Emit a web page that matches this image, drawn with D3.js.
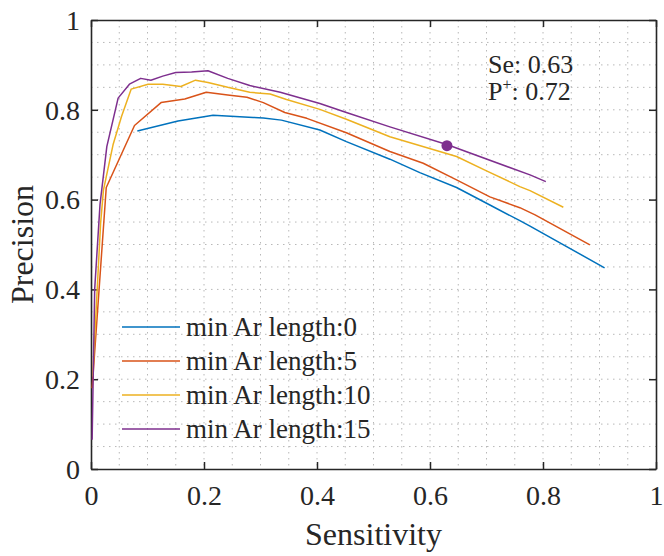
<!DOCTYPE html>
<html>
<head>
<meta charset="utf-8">
<script src="https://cdn.jsdelivr.net/npm/d3@7"></script>
<style>
  body { margin: 0; background: #fff; }
  svg { display: block; }
  text { font-family: "Liberation Serif", Tinos, "Times New Roman", Times, "DejaVu Serif", "Noto Serif", serif; fill: #262626; }
</style>
</head>
<body>
<svg></svg>
<script>
// series: [sensitivity, precision]
const len0 = [[0.082,0.753],[0.154,0.775],[0.216,0.788],[0.287,0.783],[0.305,0.782],[0.337,0.777],[0.405,0.755],[0.452,0.729],[0.529,0.690],[0.582,0.660],[0.647,0.627],[0.706,0.588],[0.759,0.553],[0.777,0.541],[0.909,0.448]];
const len5 = [[0.002,0.18],[0.027,0.627],[0.077,0.765],[0.124,0.816],[0.166,0.824],[0.204,0.839],[0.242,0.833],[0.276,0.828],[0.305,0.816],[0.343,0.794],[0.382,0.781],[0.452,0.749],[0.529,0.707],[0.588,0.681],[0.647,0.644],[0.706,0.606],[0.759,0.582],[0.786,0.566],[0.883,0.499]];
const len10 = [[0.003,0.206],[0.017,0.547],[0.022,0.621],[0.039,0.722],[0.054,0.785],[0.071,0.846],[0.101,0.857],[0.127,0.857],[0.159,0.852],[0.185,0.866],[0.207,0.861],[0.242,0.850],[0.281,0.839],[0.317,0.835],[0.346,0.823],[0.405,0.801],[0.452,0.779],[0.529,0.740],[0.647,0.696],[0.700,0.664],[0.759,0.629],[0.777,0.620],[0.836,0.583]];
const len15 = [[0.002,0.065],[0.0065,0.40],[0.016,0.59],[0.028,0.718],[0.048,0.826],[0.068,0.857],[0.088,0.870],[0.106,0.866],[0.127,0.875],[0.150,0.883],[0.178,0.884],[0.207,0.887],[0.242,0.870],[0.281,0.854],[0.335,0.839],[0.405,0.814],[0.452,0.794],[0.529,0.762],[0.631,0.722],[0.777,0.655],[0.805,0.640]];

const seriesNames = ["min Ar length:0", "min Ar length:5", "min Ar length:10", "min Ar length:15"];
const seriesColors = ["#0072BD", "#D95319", "#EDB120", "#7E2F8E"];
const allSeries = [len0, len5, len10, len15];

const markedPoint = [0.63, 0.72];
const tickValues = [0, 0.2, 0.4, 0.6, 0.8, 1];

const serif = '"Liberation Serif", Tinos, "Times New Roman", Times, "DejaVu Serif", "Noto Serif", serif';

window.onload = function() {
    const svg = d3.select("svg")
        .attr("width", 664)
        .attr("height", 556);

    const left = 91, right = 656, top = 20, bottom = 469;

    const x = d3.scaleLinear().domain([0, 1]).range([left, right]);
    const y = d3.scaleLinear().domain([0, 1]).range([bottom, top]);

    // dotted grid every 0.05
    const gridVals = d3.range(1, 20).map(i => i / 20);
    svg.append("g").selectAll("line")
        .data(gridVals)
        .join("line")
        .attr("x1", d => x(d)).attr("x2", d => x(d))
        .attr("y1", top).attr("y2", bottom)
        .attr("stroke", "#b8b8b8")
        .attr("stroke-width", 1)
        .attr("stroke-dasharray", "1.5,4.5");
    svg.append("g").selectAll("line")
        .data(gridVals)
        .join("line")
        .attr("y1", d => y(d)).attr("y2", d => y(d))
        .attr("x1", left).attr("x2", right)
        .attr("stroke", "#b8b8b8")
        .attr("stroke-width", 1)
        .attr("stroke-dasharray", "1.5,4.5");

    const fmt = d3.format("~g");

    // axes, ticks pointing inward
    const styleAxis = function(g) {
        g.attr("font-family", null);
        g.selectAll(".domain").attr("stroke", "#262626").attr("stroke-width", 1.6);
        g.selectAll(".tick line").attr("stroke", "#262626").attr("stroke-width", 1.5);
        g.selectAll(".tick text").attr("fill", "#262626")
            .style("font-family", serif)
            .style("font-size", "28px");
    };

    svg.append("g")
        .attr("transform", `translate(0,${bottom})`)
        .call(d3.axisBottom(x).tickValues(tickValues).tickFormat(fmt).tickSize(-7).tickSizeOuter(0).tickPadding(16))
        .call(styleAxis);
    svg.append("g")
        .attr("transform", `translate(${left},0)`)
        .call(d3.axisLeft(y).tickValues(tickValues).tickFormat(fmt).tickSize(-7).tickSizeOuter(0).tickPadding(11))
        .call(styleAxis)
        .selectAll(".tick text").attr("dy", "0.33em");
    svg.append("g")
        .attr("transform", `translate(0,${top})`)
        .call(d3.axisTop(x).tickValues(tickValues).tickFormat("").tickSize(-7).tickSizeOuter(0))
        .call(styleAxis);
    svg.append("g")
        .attr("transform", `translate(${right},0)`)
        .call(d3.axisRight(y).tickValues(tickValues).tickFormat("").tickSize(-7).tickSizeOuter(0))
        .call(styleAxis);

    // curves
    const line = d3.line()
        .x(d => x(d[0]))
        .y(d => y(d[1]));

    svg.append("g").selectAll("path")
        .data(allSeries)
        .join("path")
        .attr("d", line)
        .attr("fill", "none")
        .attr("stroke", (d, i) => seriesColors[i])
        .attr("stroke-width", 1.5)
        .attr("stroke-linejoin", "round");

    // marked operating point
    svg.append("circle")
        .attr("cx", x(markedPoint[0]))
        .attr("cy", y(markedPoint[1]))
        .attr("r", 5.5)
        .attr("fill", "#7E2F8E");

    // annotation
    svg.append("text")
        .attr("x", 488).attr("y", 73)
        .style("font-family", serif)
        .style("font-size", "26px")
        .text("Se: " + markedPoint[0].toFixed(2));
    const pt = svg.append("text")
        .attr("x", 488).attr("y", 100)
        .style("font-family", serif)
        .style("font-size", "26px");
    pt.append("tspan").text("P");
    pt.append("tspan").attr("dy", -10).style("font-size", "16px").text("+");
    pt.append("tspan").attr("dy", 10).text(": " + markedPoint[1].toFixed(2));

    // legend (no box)
    const legend = svg.append("g").selectAll("g")
        .data(seriesNames)
        .join("g")
        .attr("transform", (d, i) => `translate(0,${327 + i * 34})`);
    legend.append("line")
        .attr("x1", 122).attr("x2", 180)
        .attr("stroke", (d, i) => seriesColors[i])
        .attr("stroke-width", 1.5);
    legend.append("text")
        .attr("x", 186)
        .attr("dy", "0.33em")
        .style("font-family", serif)
        .style("font-size", "27px")
        .text(d => d);

    // axis labels
    svg.append("text")
        .attr("x", (left + right) / 2)
        .attr("y", 545)
        .attr("text-anchor", "middle")
        .style("font-family", serif)
        .style("font-size", "32px")
        .text("Sensitivity");
    svg.append("text")
        .attr("transform", `translate(33,${(top + bottom) / 2}) rotate(-90)`)
        .attr("text-anchor", "middle")
        .style("font-family", serif)
        .style("font-size", "32px")
        .text("Precision");
};
</script>
</body>
</html>
